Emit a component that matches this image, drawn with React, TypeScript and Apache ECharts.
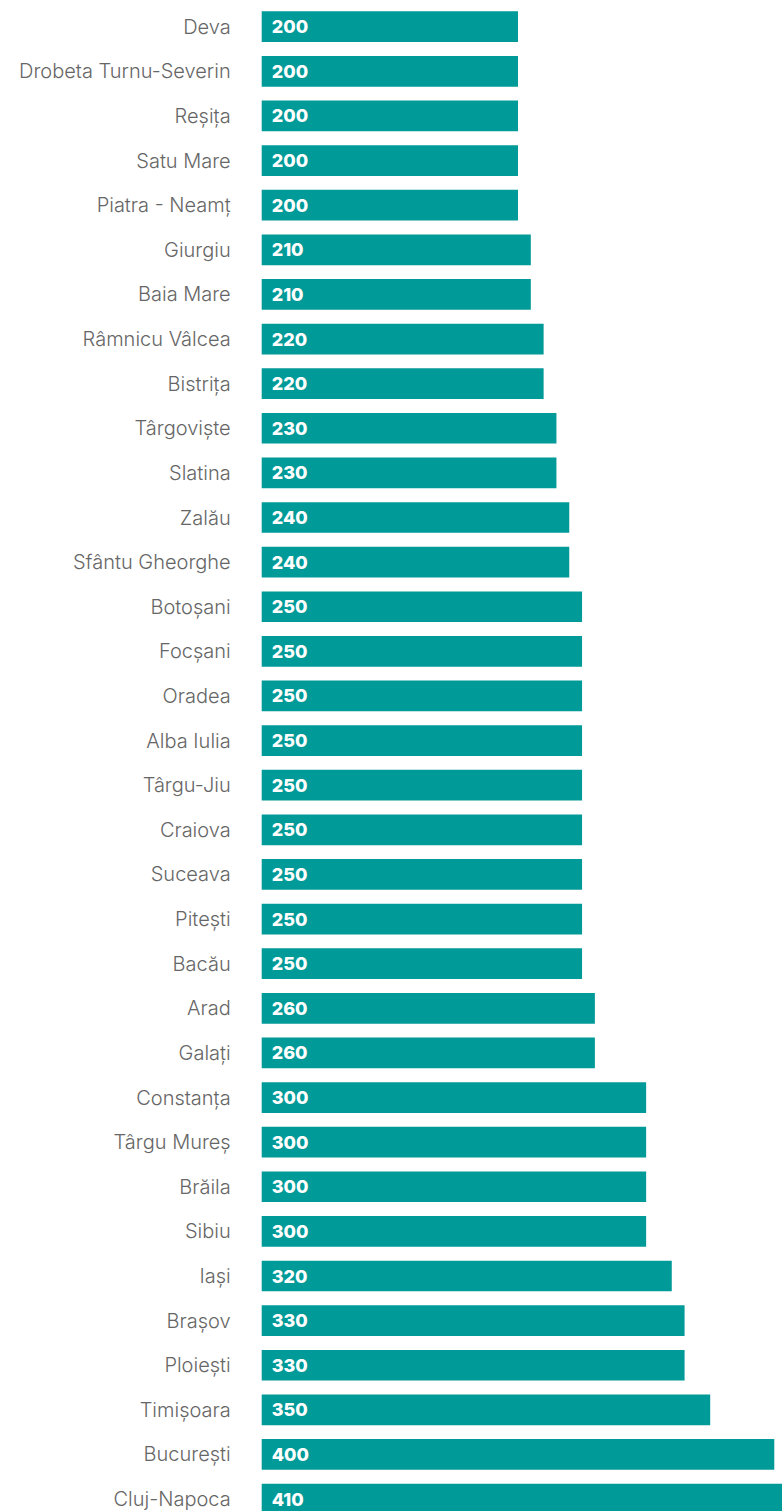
import React, { useEffect, useRef } from "react";
import * as echarts from "echarts";

const cities: string[] = [
  "Deva", "Drobeta Turnu-Severin", "Reșița", "Satu Mare", "Piatra - Neamț",
  "Giurgiu", "Baia Mare", "Râmnicu Vâlcea", "Bistrița", "Târgoviște",
  "Slatina", "Zalău", "Sfântu Gheorghe", "Botoșani", "Focșani",
  "Oradea", "Alba Iulia", "Târgu-Jiu", "Craiova", "Suceava",
  "Pitești", "Bacău", "Arad", "Galați", "Constanța",
  "Târgu Mureș", "Brăila", "Sibiu", "Iași", "Brașov",
  "Ploiești", "Timișoara", "București", "Cluj-Napoca",
];

const values: number[] = [
  200, 200, 200, 200, 200,
  210, 210, 220, 220, 230,
  230, 240, 240, 250, 250,
  250, 250, 250, 250, 250,
  250, 250, 260, 260, 300,
  300, 300, 300, 320, 330,
  330, 350, 400, 410,
];

export default function App() {
  const ref = useRef<HTMLDivElement>(null);
  useEffect(() => {
    if (!ref.current) return;
    const chart = echarts.init(ref.current, undefined, { renderer: "svg" });
    chart.setOption({
      animation: false,
      grid: { left: 261.7, top: 4.4, width: 525.4, height: 1517, containLabel: false },
      xAxis: {
        type: "value",
        min: 0,
        max: 410,
        show: false,
      },
      yAxis: {
        type: "category",
        inverse: true,
        data: cities,
        axisLine: { show: false },
        axisTick: { show: false },
        splitLine: { show: false },
        axisLabel: {
          margin: 31,
          color: "#666666",
          fontFamily: "Inter",
          fontWeight: 300,
          fontSize: 20,
        },
      },
      series: [
        {
          type: "bar",
          data: values,
          barWidth: 30.7,
          itemStyle: { color: "#009a98" },
          label: {
            show: true,
            position: "insideLeft",
            distance: 10,
            color: "#ffffff",
            fontFamily: "Inter",
            fontWeight: 800,
            fontSize: 18,
          },
        },
      ],
    });
    return () => chart.dispose();
  }, []);
  return (
    <div
      style={{
        position: "absolute",
        left: 0,
        top: 0,
        width: 782,
        height: 1511,
        overflow: "hidden",
      }}
    >
      <div ref={ref} style={{ width: 800, height: 1530 }} />
    </div>
  );
}
